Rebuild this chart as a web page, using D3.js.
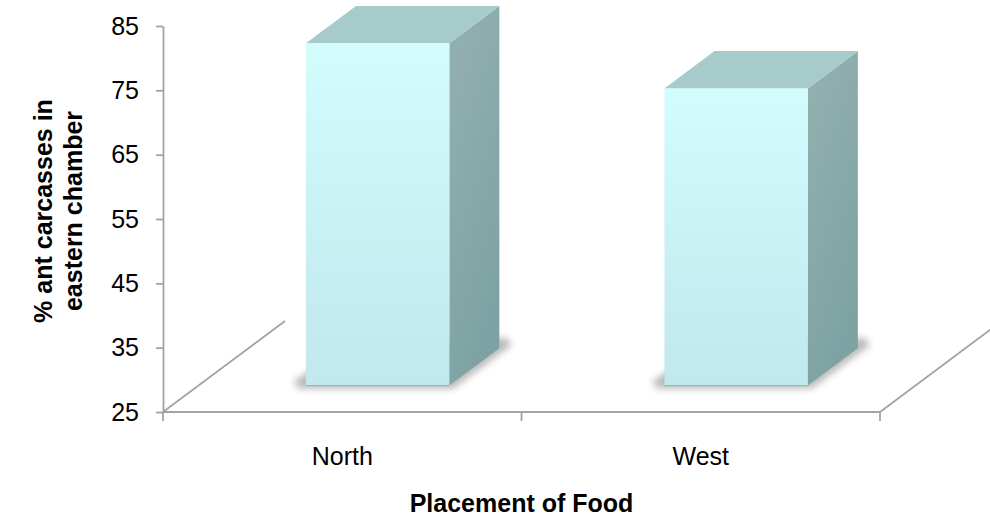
<!DOCTYPE html>
<html>
<head>
<meta charset="utf-8">
<script src="https://cdn.jsdelivr.net/npm/d3@7"></script>
<style>
  body { margin: 0; background: #fff; }
  svg { display: block; font-family: Arial, "Liberation Sans", sans-serif; }
</style>
</head>
<body>
<div id="chart"></div>
<script>
// data
const categories = ["North", "West"];
const values = [78.2, 71.2];
const yTicks = [25, 35, 45, 55, 65, 75, 85];
const yTitle = ["% ant carcasses in", "eastern chamber"];
const xTitle = "Placement of Food";

const width = 990, height = 519;
const marginLeft = 163, marginTop = 26, floorY = 412, rightEdge = 880;

// oblique depth of the floor (full depth) and where bars sit in it
const depth = [122, -91];
const front = 0.29, back = 0.70;

const svg = d3.select("#chart").append("svg")
  .attr("width", width).attr("height", height);

const defs = svg.append("defs");
const gFront = defs.append("linearGradient").attr("id", "gFront")
  .attr("x1", 0).attr("y1", 0).attr("x2", 0).attr("y2", 1);
gFront.append("stop").attr("offset", 0).attr("stop-color", "#d3fcfd");
gFront.append("stop").attr("offset", 1).attr("stop-color", "#c0e8ed");
const gSide = defs.append("linearGradient").attr("id", "gSide")
  .attr("x1", 0).attr("y1", 0).attr("x2", 0.4).attr("y2", 1);
gSide.append("stop").attr("offset", 0).attr("stop-color", "#95b1b1");
gSide.append("stop").attr("offset", 1).attr("stop-color", "#7ea2a3");
defs.append("filter").attr("id", "blur")
  .attr("x", -0.3).attr("y", -0.3).attr("width", 1.6).attr("height", 1.6)
  .append("feGaussianBlur").attr("stdDeviation", 3.5);

const y = d3.scaleLinear([25, 85], [floorY, marginTop]);
const x = d3.scalePoint(categories, [marginLeft, rightEdge]).padding(0.5);
const barW = x.step() * 0.4;

const axisColor = "#a3a3a3";

// floor
const floor = svg.append("g").attr("stroke", axisColor).attr("stroke-width", 1.8).attr("fill", "none");
floor.append("line").attr("x1", marginLeft).attr("y1", floorY).attr("x2", rightEdge).attr("y2", floorY);
floor.append("line").attr("x1", marginLeft).attr("y1", floorY)
  .attr("x2", marginLeft + depth[0]).attr("y2", floorY + depth[1]);
floor.append("line").attr("x1", rightEdge).attr("y1", floorY)
  .attr("x2", rightEdge + depth[0]).attr("y2", floorY + depth[1]);
// category ticks on floor
[marginLeft, (marginLeft + rightEdge) / 2, rightEdge].forEach(t => {
  floor.append("line").attr("x1", t).attr("x2", t).attr("y1", floorY).attr("y2", floorY + 9);
});

// y axis
svg.append("g")
  .attr("transform", `translate(${marginLeft},0)`)
  .call(d3.axisLeft(y).tickValues(yTicks).tickSize(7).tickSizeOuter(0).tickPadding(17))
  .call(g => g.selectAll("line, path").attr("stroke", axisColor).attr("stroke-width", 1.8))
  .call(g => g.selectAll("text").attr("font-size", 25).attr("fill", "#000")
    .attr("font-family", "Arial, 'Liberation Sans', sans-serif"));

// bars
const pt = (px, py, f) => [px + depth[0] * f, py + depth[1] * f];
const bars = svg.append("g").selectAll("g").data(categories).join("g");

bars.each(function (c, i) {
  const g = d3.select(this);
  const x0 = x(c) - barW / 2, x1 = x(c) + barW / 2;
  const yb = y(25), yt = y(values[i]);
  const fbl = pt(x0, yb, front), fbr = pt(x1, yb, front);
  const ftl = pt(x0, yt, front), ftr = pt(x1, yt, front);
  const bbr = pt(x1, yb, back), btl = pt(x0, yt, back), btr = pt(x1, yt, back);
  const bbl = pt(x0, yb, back);
  const line = d3.line();

  // soft shadow at the base
  g.append("path")
    .attr("d", line([[fbl[0] - 12, fbl[1] - 4], [fbl[0] - 8, fbl[1] + 3], [fbr[0] + 4, fbr[1] + 3],
      [bbr[0] + 12, bbr[1] - 3], [bbr[0] + 8, bbr[1] - 10], [bbl[0], bbl[1] - 10]]) + "Z")
    .attr("fill", "#666").attr("opacity", 0.45).attr("filter", "url(#blur)");

  g.append("path").attr("d", line([fbr, bbr, btr, ftr]) + "Z").attr("fill", "url(#gSide)");
  g.append("path").attr("d", line([ftl, ftr, btr, btl]) + "Z").attr("fill", "#a7cbca");
  g.append("path").attr("d", line([fbl, fbr, ftr, ftl]) + "Z").attr("fill", "url(#gFront)");
  g.append("path").attr("d", line([fbl, fbr]))
    .attr("stroke", "#9ab6b8").attr("stroke-width", 1.2);
});

// category labels
svg.append("g").selectAll("text").data(categories).join("text")
  .attr("x", d => x(d)).attr("y", 465)
  .attr("text-anchor", "middle").attr("font-size", 25).text(d => d);

// axis titles
svg.append("text")
  .attr("x", (marginLeft + rightEdge) / 2).attr("y", 512)
  .attr("text-anchor", "middle").attr("font-size", 25).attr("font-weight", "bold")
  .text(xTitle);

svg.append("g").attr("transform", "translate(52,211) rotate(-90)")
  .selectAll("text").data(yTitle).join("text")
  .attr("x", 0).attr("y", (d, i) => i * 30)
  .attr("text-anchor", "middle").attr("font-size", 25).attr("font-weight", "bold")
  .text(d => d);
</script>
</body>
</html>
